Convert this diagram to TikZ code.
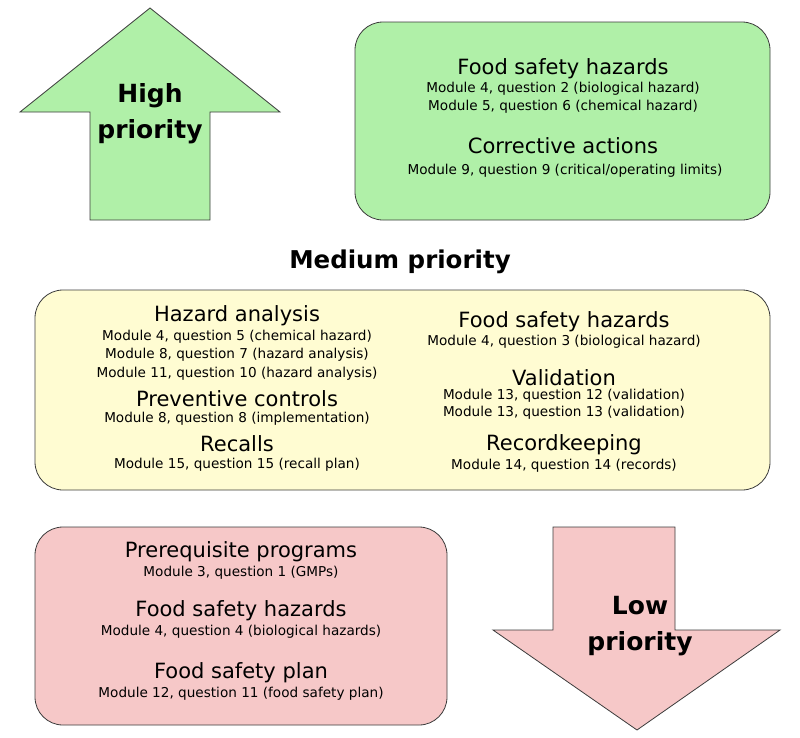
\documentclass[tikz,border=0pt]{standalone}
\usepackage{fontspec}
\setmainfont{DejaVu Sans}
\definecolor{gfill}{RGB}{176,240,168}
\definecolor{yfill}{RGB}{255,252,210}
\definecolor{rfill}{RGB}{246,200,200}
\definecolor{bord}{RGB}{60,60,60}
\begin{document}
\begin{tikzpicture}[x=1pt,y=-1pt,
  box/.style={draw=bord,line width=0.8pt,rounded corners=28pt},
  hd/.style={font=\fontsize{21}{24}\selectfont,anchor=center},
  sb/.style={font=\fontsize{13.6}{16}\selectfont,anchor=center},
  big/.style={font=\fontsize{25}{36}\selectfont\bfseries,align=center}]
\useasboundingbox (0,0) rectangle (800,737);
% up arrow
\filldraw[fill=gfill,draw=bord,line width=0.8pt] (150,8) -- (280,112) -- (210,112) -- (210,220) -- (90,220) -- (90,112) -- (20,112) -- cycle;
\node[big] (hp) at (150,114) {High\\priority};
% top right box
\filldraw[box,fill=gfill] (355,22) rectangle (770,220);
\node[hd] (t1) at (563,69) {Food safety hazards};
\node[sb] (t2) at (563,89) {Module 4, question 2 (biological hazard)};
\node[sb] (t3) at (563,107) {Module 5, question 6 (chemical hazard)};
\node[hd] (t4) at (563,146) {Corrective actions};
\node[sb] (t5) at (565,171) {Module 9, question 9 (critical/operating limits)};
\node[font=\fontsize{24.5}{28}\selectfont\bfseries] (mp) at (400,262) {Medium priority};
% yellow box
\filldraw[box,fill=yfill] (35,290) rectangle (770,490);
\node[hd] (m1) at (237,316) {Hazard analysis};
\node[sb] (m2) at (237,337) {Module 4, question 5 (chemical hazard)};
\node[sb] (m3) at (237,355) {Module 8, question 7 (hazard analysis)};
\node[sb] (m4) at (237,374) {Module 11, question 10 (hazard analysis)};
\node[hd] (m5) at (237,399) {Preventive controls};
\node[sb] (m6) at (237,419) {Module 8, question 8 (implementation)};
\node[hd] (m7) at (237,444) {Recalls};
\node[sb] (m8) at (237,465) {Module 15, question 15 (recall plan)};
\node[hd] (n1) at (564,322) {Food safety hazards};
\node[sb] (n2) at (564,342) {Module 4, question 3 (biological hazard)};
\node[hd] (n3) at (564,378) {Validation};
\node[sb] (n4) at (564,396) {Module 13, question 12 (validation)};
\node[sb] (n5) at (564,413) {Module 13, question 13 (validation)};
\node[hd] (n6) at (564,445) {Recordkeeping};
\node[sb] (n7) at (564,466) {Module 14, question 14 (records)};
% red box
\filldraw[box,fill=rfill] (35,527) rectangle (447,725);
\node[hd] (r1) at (241,552) {Prerequisite programs};
\node[sb] (r2) at (241,573) {Module 3, question 1 (GMPs)};
\node[hd] (r3) at (241,611) {Food safety hazards};
\node[sb] (r4) at (241,632) {Module 4, question 4 (biological hazards)};
\node[hd] (r5) at (241,673) {Food safety plan};
\node[sb] (r6) at (241,694) {Module 12, question 11 (food safety plan)};
% down arrow
\filldraw[fill=rfill,draw=bord,line width=0.8pt] (553,527) -- (675,527) -- (675,630) -- (780,630) -- (637,730) -- (493,630) -- (553,630) -- cycle;
\node[big] (lp) at (640,626) {Low\\priority};
\end{tikzpicture}
\end{document}
